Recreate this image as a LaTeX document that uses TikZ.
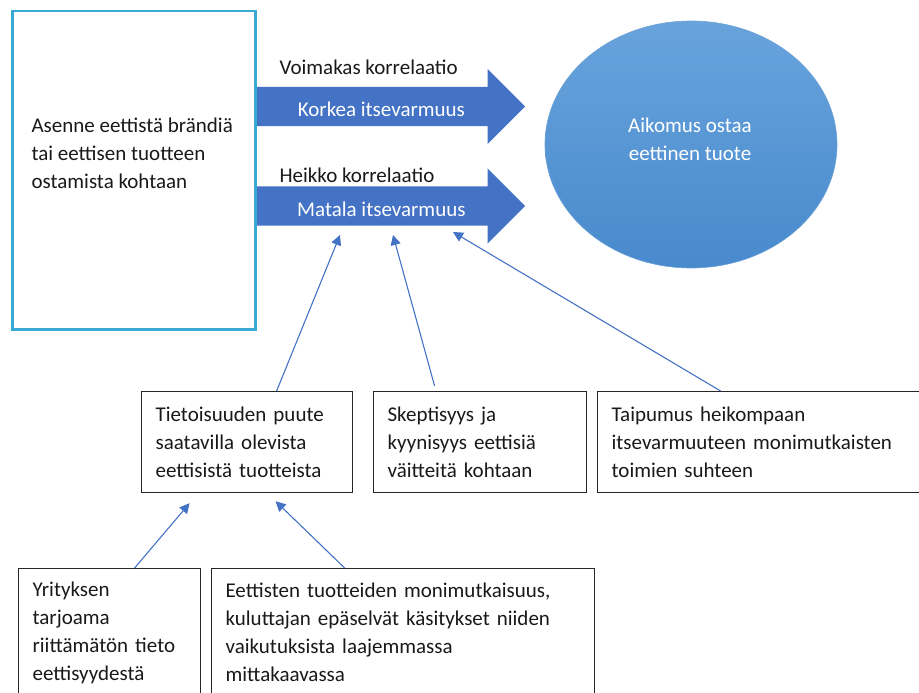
\documentclass[tikz,border=0pt]{standalone}
\usepackage{fontspec}
\setmainfont{Carlito}
\usetikzlibrary{shapes,arrows.meta}
\definecolor{lohko}{RGB}{68,114,196}
\definecolor{soikioyla}{RGB}{104,163,220}
\definecolor{soikioala}{RGB}{72,138,205}
\definecolor{kehys}{RGB}{57,170,214}
\tikzstyle{txt}=[font=\fontsize{21}{28}\selectfont,text=black!90]
\tikzstyle{bx}=[txt,rectangle,draw=black!85,line width=1.2pt,anchor=north west,inner xsep=14pt,align=left]
\tikzstyle{ba}=[single arrow,fill=lohko,txt,text=white,minimum height=268pt,single arrow head extend=18pt,text height=20pt,text depth=0pt,inner ysep=9.5pt,anchor=tail]
\tikzstyle{cn}=[draw=lohko,line width=1.1pt,-{Triangle[length=10pt,width=10pt]}]

\begin{document}
\begin{tikzpicture}[x=1pt,y=-1pt]
\useasboundingbox (0,0) rectangle (919,693);
\node[draw=kehys,line width=2.5pt,minimum width=243pt,minimum height=318pt,anchor=north west] (asennekehys) at (11,10) {};
\node[txt,align=left,anchor=west] (asenne) at (28,153) {Asenne eettistä brändiä\\tai eettisen tuotteen\\ostamista kohtaan};
\node[ba] (korkea) at (257,106.5) {Korkea itsevarmuus};
\node[ba] (matala) at (257,206) {Matala itsevarmuus};
\node[txt,anchor=west] (voimakas) at (276,67) {Voimakas korrelaatio};
\node[txt,anchor=west] (heikko) at (276,175) {Heikko korrelaatio};
\node[ellipse,top color=soikioyla,bottom color=soikioala,draw=soikioala!80,line width=0.6pt,minimum width=292pt,minimum height=247pt] (aikomus) at (691,144.5) {};
\node[txt,text=white,align=center] (aikomusteksti) at (690,139) {Aikomus ostaa\\eettinen tuote};
\node[bx,text width=183pt,minimum width=211pt,minimum height=101pt] (tieto) at (141,391) {Tietoisuuden puute\\saatavilla olevista\\eettisistä tuotteista};
\node[bx,text width=185pt,minimum width=213pt,minimum height=101pt] (skepsis) at (373,391) {Skeptisyys ja\\kyynisyys eettisiä\\väitteitä kohtaan};
\node[bx,text width=310pt,minimum width=338pt,minimum height=101pt] (taipumus) at (597,391) {Taipumus heikompaan\\itsevarmuuteen monimutkaisten\\toimien suhteen};
\node[bx,text width=154pt,minimum width=182pt,minimum height=128pt] (yritys) at (18,568) {Yrityksen\\tarjoama\\riittämätön tieto\\eettisyydestä};
\node[bx,text width=355pt,minimum width=383pt,minimum height=128pt] (monimutk) at (211,568) {Eettisten tuotteiden monimutkaisuus,\\kuluttajan epäselvät käsitykset niiden\\vaikutuksista laajemmassa\\mittakaavassa};
\coordinate (m1) at (340,235);
\coordinate (m2) at (393,235);
\coordinate (m3) at (453,232);
\draw[cn] ([xshift=29.5pt]tieto.north) -- (m1);
\draw[cn] ([xshift=-45.5pt,yshift=5pt]skepsis.north) -- (m2);
\draw[cn] ([xshift=-46pt]taipumus.north) -- (m3);
\draw[cn] ([xshift=25pt]yritys.north) -- ([xshift=-57.5pt,yshift=-10pt]tieto.south);
\draw[cn] ([xshift=-58.5pt]monimutk.north) -- ([xshift=28.5pt,yshift=-8pt]tieto.south);
\end{tikzpicture}
\end{document}
